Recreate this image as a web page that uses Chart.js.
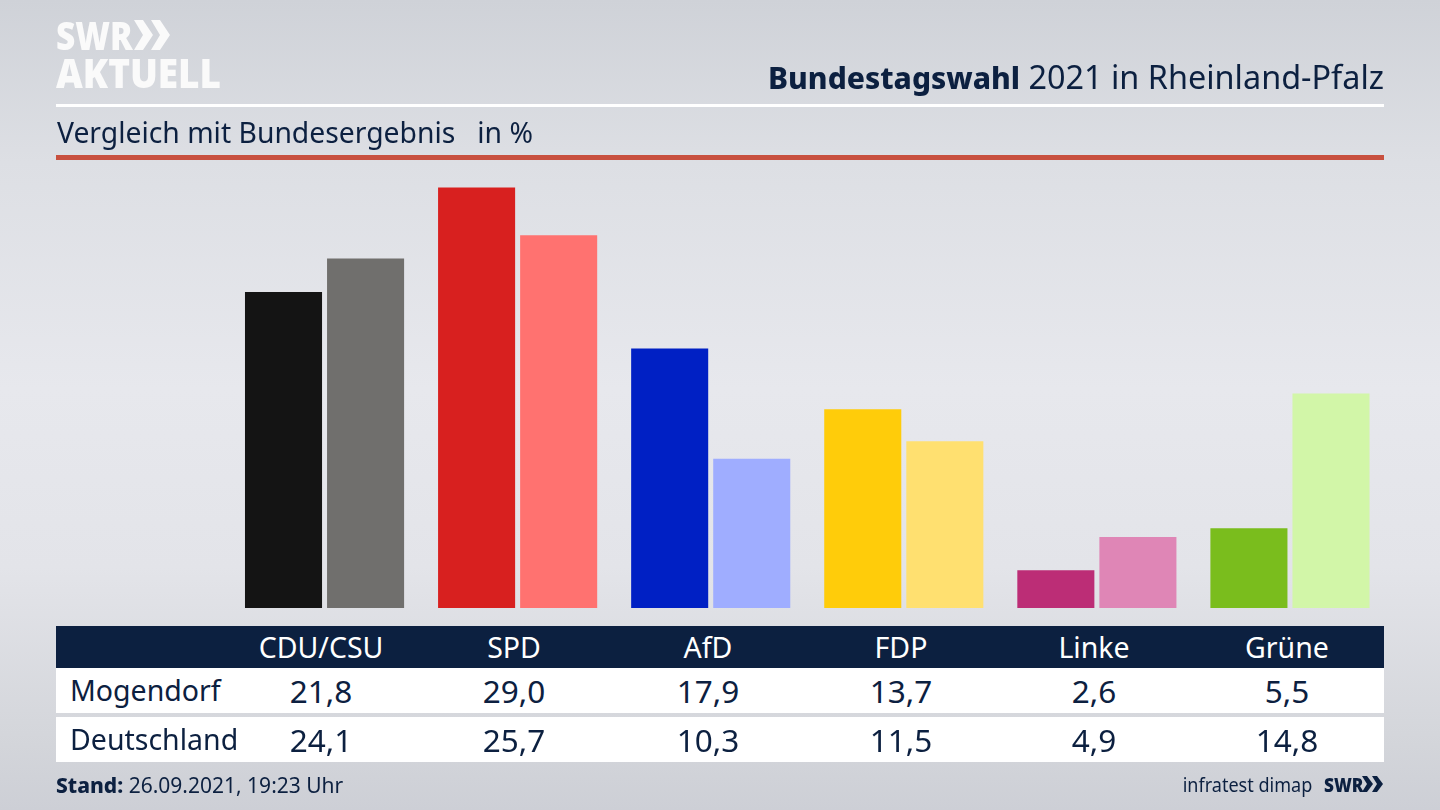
<!DOCTYPE html>
<html lang="de">
<head>
<meta charset="utf-8">
<title>Bundestagswahl 2021 in Rheinland-Pfalz</title>
<script src="https://cdn.jsdelivr.net/npm/chart.js@4"></script>
<style>
html,body{margin:0;padding:0}
body{width:1440px;height:810px;position:relative;overflow:hidden;color:#0c2040;
font-family:"Noto Sans",sans-serif;
background:linear-gradient(180deg,#cfd2d8 0%,#dddfe4 20%,#e7e8ed 48%,#e3e4e9 70%,#d3d5da 92%,#cdcfd6 100%)}
#chart{position:absolute;left:0;top:0}
.abs{position:absolute;white-space:nowrap}
#logo1,#logo2{color:#fafafa;font-weight:800;font-family:"Open Sans",sans-serif;transform-origin:left top}
#logo1{left:56px;top:12px;font-size:38px;line-height:46px;transform:scaleX(.88)}
#logo2{left:56px;top:48px;font-size:41px;line-height:48px;transform:scaleX(.9)}
#chev{left:134px;top:19px}
#title{right:56px;top:54px;font-size:32.4px;line-height:44px}
#title b{font-weight:800;font-size:30px}
#lineW{left:56px;top:104px;width:1328px;height:3px;background:#fff}
#sub{left:57px;top:112px;font-size:28.3px;line-height:40px}
#lineR{left:56px;top:155px;width:1328px;height:5px;background:#c8503f}
#head{left:56px;top:626px;width:1328px;height:42px;background:#0c2040}
.row{left:56px;width:1328px;height:45px;background:#fff}
#row1{top:668px}
#row2{top:717px}
.cell{position:absolute;transform:translateX(-50%);font-size:31.5px;line-height:45px}
#head .cell{font-size:28.5px;line-height:42px}
.name{position:absolute;font-size:28.5px;line-height:45px}
#stand{left:56px;top:770px;font-size:21px;line-height:30px}
#stand b{font-weight:800}
#inst{right:128px;top:769px;font-size:20.5px;line-height:30px;transform:scaleX(.88);transform-origin:right top}
#swr{left:1324px;top:771px;font-family:"Open Sans",sans-serif;font-weight:800;font-size:20px;line-height:27px;transform:scaleX(.86);transform-origin:left top}
#chev2{left:1362px;top:776px}
</style>
</head>
<body>
<canvas id="chart" width="1440" height="810"></canvas>

<div class="abs" id="logo1">SWR</div>
<svg class="abs" id="chev" width="38" height="32" viewBox="0 0 38 32"><path d="M0 1h9l10 15-10 15H0l9-15zM17 1h9l10 15-10 15h-9l9-15z" fill="#fafafa"/></svg>
<div class="abs" id="logo2">AKTUELL</div>
<div class="abs" id="title"><b>Bundestagswahl</b> 2021 in Rheinland-Pfalz</div>
<div class="abs" id="lineW"></div>
<div class="abs" id="sub">Vergleich mit Bundesergebnis&nbsp;&nbsp; in %</div>
<div class="abs" id="lineR"></div>

<div class="abs" id="head"></div>
<div class="abs row" id="row1"></div>
<div class="abs row" id="row2"></div>

<div class="abs" id="stand"><b>Stand:</b> 26.09.2021, 19:23 Uhr</div>
<div class="abs" id="inst">infratest dimap</div>
<div class="abs" id="swr">SWR</div>
<svg class="abs" id="chev2" width="22" height="16" viewBox="0 0 22 16"><path d="M0 0h5l6 8-6 8H0l5-8zM10 0h5l6 8-6 8h-5l5-8z" fill="#0c2040"/></svg>

<script>
const parties = ["CDU/CSU","SPD","AfD","FDP","Linke","Grüne"];
const mogendorf = [21.8,29.0,17.9,13.7,2.6,5.5];
const deutschland = [24.1,25.7,10.3,11.5,4.9,14.8];

const colorsMogendorf = ["#141414","#d8201f","#0020c4","#ffcc0a","#bc2d76","#7abd1d"];
const colorsDeutschland = ["#706f6d","#ff7270","#9fadff","#ffe070","#df86b6","#d2f6a8"];

// Table under the bars

const cellX = [321,514,708,901,1094,1287];

function addCells(rowId,values,color){
const row=document.getElementById(rowId);
values.forEach((v,i)=>{
const c=document.createElement("div");
c.className="cell";
c.style.left=(cellX[i]-56)+"px";
c.style.color=color;
c.textContent=v;
row.appendChild(c);
});
}

function fmt(x){
return x.toFixed(1).replace(".",",");
}

addCells("head",parties,"#fff");
addCells("row1",mogendorf.map(fmt),"#0c2040");
addCells("row2",deutschland.map(fmt),"#0c2040");

document.getElementById("row1").insertAdjacentHTML("beforeend",'<div class="name" style="left:14px">Mogendorf</div>');
document.getElementById("row2").insertAdjacentHTML("beforeend",'<div class="name" style="left:14px">Deutschland</div>');

// Bars

new Chart(document.getElementById("chart"),{
type:"bar",
data:{
labels:parties,
datasets:[
{label:"Mogendorf",data:mogendorf,backgroundColor:colorsMogendorf,borderWidth:0},
{label:"Deutschland",data:deutschland,backgroundColor:colorsDeutschland,borderWidth:0}
]
},
options:{
responsive:false,
animation:false,
devicePixelRatio:1,
layout:{padding:{left:228,right:53.5,top:173,bottom:202}},
categoryPercentage:0.85,
barPercentage:0.939,
plugins:{legend:{display:false},tooltip:{enabled:false}},
scales:{
x:{display:false},
y:{display:false,min:0,max:30}
}
}
});
</script>
</body>
</html>
